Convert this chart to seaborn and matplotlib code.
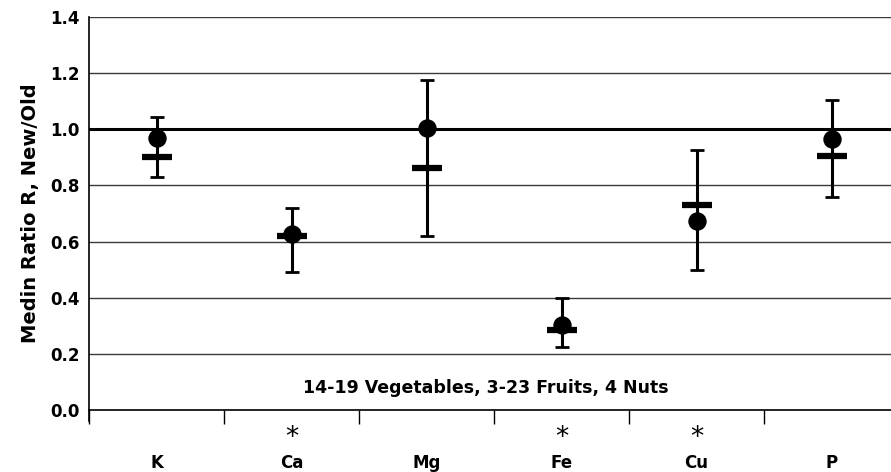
import numpy as np
import pandas as pd
import seaborn as sns
import matplotlib.pyplot as plt
from matplotlib.transforms import blended_transform_factory

# values
nutrients = ['K', 'Ca', 'Mg', 'Fe', 'Cu', 'P']
significant = [False, True, False, True, True, False]
median_ratio = [0.97, 0.628, 1.006, 0.302, 0.675, 0.965]   # circles
mean_ratio = [0.902, 0.619, 0.862, 0.284, 0.732, 0.906]    # horizontal dashes
upper = [1.045, 0.719, 1.175, 0.398, 0.927, 1.105]
lower = [0.829, 0.490, 0.619, 0.223, 0.497, 0.759]

df = pd.DataFrame({'pos': np.arange(len(nutrients)), 'nutrient': nutrients,
                   'median': median_ratio, 'mean': mean_ratio,
                   'upper': upper, 'lower': lower})

sns.set_style('white')
plt.rcParams['font.family'] = ['DejaVu Sans']
plt.rcParams['text.color'] = 'black'
plt.rcParams['xtick.color'] = 'black'
plt.rcParams['ytick.color'] = 'black'
plt.rcParams['axes.labelcolor'] = 'black'

fig = plt.figure(figsize=(8.91, 4.72), dpi=100)
ax = fig.add_axes([89 / 891, 62 / 472, 810 / 891, 393 / 472])

# grid
for y in np.arange(0.2, 1.41, 0.2):
    if abs(y - 1.0) < 1e-6:
        ax.axhline(y, color='black', lw=2.2, zorder=1)
    else:
        ax.axhline(y, color='#3a3a3a', lw=1.0, zorder=1)

# whiskers
ax.errorbar(df['pos'], df['mean'],
            yerr=[df['mean'] - df['lower'], df['upper'] - df['mean']],
            fmt='none', ecolor='black', elinewidth=2.2, capsize=5, capthick=2.0, zorder=3)
# dashes
sns.scatterplot(data=df, x='pos', y='mean', marker='_', s=480, linewidth=4.5,
                color='black', ax=ax, zorder=4)
# circles
sns.scatterplot(data=df, x='pos', y='median', marker='o', s=150, color='black',
                edgecolor='black', ax=ax, zorder=5)

ax.set_xlim(-0.5, 5.5)
ax.set_ylim(0, 1.4)
ax.set_yticks(np.arange(0, 1.41, 0.2))
ax.set_yticklabels([f'{v:.1f}' for v in np.arange(0, 1.41, 0.2)],
                   fontweight='bold', fontsize=12)
ax.tick_params(axis='y', length=0, pad=7)

ax.set_xticks(np.arange(-0.5, 6, 1.0))
ax.set_xticklabels([])
ax.tick_params(axis='x', which='major', direction='out', length=10, width=1, color='black',
               bottom=True)
ax.set_xticks(np.arange(len(nutrients)), minor=True)
ax.set_xticklabels(nutrients, minor=True, fontweight='bold', fontsize=12)
ax.tick_params(axis='x', which='minor', length=0, pad=32)

trans = blended_transform_factory(ax.transData, ax.transAxes)
for i, sig in enumerate(significant):
    if sig:
        ax.text(i, -0.07, '*', transform=trans, ha='center', va='center',
                fontsize=19, clip_on=False)

ax.text(2.44, 0.078, '14-19 Vegetables, 3-23 Fruits, 4 Nuts', ha='center', va='center',
        fontweight='bold', fontsize=12.5)

ax.set_xlabel('')
ax.set_ylabel('Medin Ratio R, New/Old', fontweight='bold', fontsize=14, labelpad=7)

for s in ['top', 'right']:
    ax.spines[s].set_visible(False)
ax.spines['left'].set_color('black')
ax.spines['bottom'].set_color('black')
ax.spines['left'].set_linewidth(1.2)
ax.spines['bottom'].set_linewidth(1.2)
ax.spines['left'].set_bounds(-0.04, 1.4)

fig.savefig('out.png', dpi=100)
